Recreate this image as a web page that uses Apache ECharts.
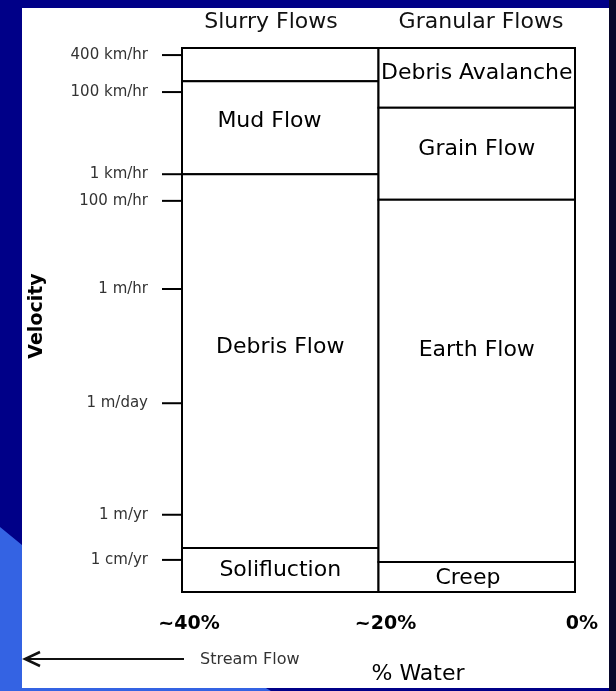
<!DOCTYPE html>
<html>
<head>
<meta charset="utf-8">
<script src="https://cdn.jsdelivr.net/npm/echarts@6/dist/echarts.min.js"></script>
<style>
html, body { margin: 0; padding: 0; background: #000088; }
#main { width: 616px; height: 691px; }
</style>
</head>
<body>
<div id="main"></div>
<script>
// velocity marks on a schematic scale, 0 = bottom of the diagram, 100 = top
const velocityLabels = ['400 km/hr', '100 km/hr', '1 km/hr', '100 m/hr', '1 m/hr', '1 m/day', '1 m/yr', '1 cm/yr'];
const velocityLevels = [98.7, 91.9, 76.8, 71.9, 55.7, 34.7, 14.2, 5.9];

// % water axis
const waterMin = 0;
const waterMax = 40;
const waterStep = 20;

// flow regions
const regionNames = ['', 'Mud Flow', 'Debris Flow', 'Solifluction', 'Debris Avalanche', 'Grain Flow', 'Earth Flow', 'Creep'];
const regionWaterHigh = [40, 40, 40, 40, 20, 20, 20, 20];
const regionWaterLow = [20, 20, 20, 20, 0, 0, 0, 0];
const regionBottom = [93.9, 76.8, 8.1, 0, 89.0, 72.1, 5.5, 0];
const regionTop = [100, 93.9, 76.8, 8.1, 100, 89.0, 72.1, 5.5];
const labelWater = [30, 31.1, 30, 30, 10, 10, 10, 10.9];
const labelLevel = [96.9, 86.6, 44.9, 4.0, 95.4, 81.3, 44.5, 2.6];

const FONT = '"DejaVu Sans", "Liberation Sans", sans-serif';

const regionData = regionNames.map((n, i) => [
    regionWaterHigh[i], regionWaterLow[i], regionBottom[i], regionTop[i], labelWater[i], labelLevel[i]
]);

const chart = echarts.init(document.getElementById('main'));

const option = {
    backgroundColor: 'transparent',
    animation: false,
    grid: { left: 182, right: 41, top: 48, bottom: 99 },
    xAxis: {
        type: 'value',
        min: waterMin,
        max: waterMax,
        interval: waterStep,
        inverse: true,
        axisLine: { show: false },
        axisTick: { show: false },
        splitLine: { show: false },
        axisLabel: {
            margin: 23,
            fontSize: 19,
            fontWeight: 'bold',
            fontFamily: FONT,
            color: '#000',
            padding: [0, 0, 0, 14],
            formatter: v => v === 0 ? '0%' : '~' + v + '%'
        }
    },
    yAxis: {
        type: 'value',
        min: 0,
        max: 100,
        axisLine: { show: false },
        splitLine: { show: false },
        axisTick: { show: false },
        axisLabel: {
            customValues: velocityLevels,
            margin: 34,
            fontSize: 15,
            fontFamily: FONT,
            color: '#333',
            formatter: v => velocityLabels[velocityLevels.indexOf(v)]
        }
    },
    graphic: [
        // background pieces
        { type: 'polygon', z: -10, shape: { points: [[0, 527], [22, 545], [271, 691], [0, 691]] }, style: { fill: '#3463e3' } },
        { type: 'rect', z: -10, shape: { x: 609, y: 0, width: 7, height: 691 }, style: { fill: '#07072c' } },
        { type: 'rect', z: -9, shape: { x: 22, y: 8, width: 587, height: 680 }, style: { fill: '#fff' } },
        // column titles
        { type: 'text', z: 10, x: 271, y: 22, style: { text: 'Slurry Flows', font: '22px ' + FONT, fill: '#111', align: 'center', verticalAlign: 'middle' } },
        { type: 'text', z: 10, x: 481, y: 22, style: { text: 'Granular Flows', font: '22px ' + FONT, fill: '#111', align: 'center', verticalAlign: 'middle' } },
        // axis names
        { type: 'text', z: 10, x: 37, y: 316, rotation: Math.PI / 2, style: { text: 'Velocity', font: 'bold 19px ' + FONT, fill: '#000', align: 'center', verticalAlign: 'middle' } },
        { type: 'text', z: 10, x: 418, y: 674, style: { text: '% Water', font: '22px ' + FONT, fill: '#000', align: 'center', verticalAlign: 'middle' } },
        // stream flow arrow
        { type: 'line', z: 10, shape: { x1: 25, y1: 659, x2: 184, y2: 659 }, style: { stroke: '#111', lineWidth: 2 } },
        { type: 'polyline', z: 10, shape: { points: [[40, 652], [25, 659], [40, 666]] }, style: { stroke: '#111', lineWidth: 2.5, fill: null } },
        { type: 'text', z: 10, x: 200, y: 660, style: { text: 'Stream Flow', font: '16px ' + FONT, fill: '#333', align: 'left', verticalAlign: 'middle' } }
    ],
    series: [
        {
            // flow regions
            type: 'custom',
            data: regionData,
            encode: { x: [0, 1, 4], y: [2, 3, 5] },
            renderItem: function (params, api) {
                const p0 = api.coord([api.value(0), api.value(3)]);
                const p1 = api.coord([api.value(1), api.value(2)]);
                const t = api.coord([api.value(4), api.value(5)]);
                return {
                    type: 'group',
                    children: [
                        {
                            type: 'rect',
                            shape: { x: p0[0], y: p0[1], width: p1[0] - p0[0], height: p1[1] - p0[1] },
                            style: { fill: '#fff', stroke: '#000', lineWidth: 2 }
                        },
                        {
                            type: 'text',
                            x: t[0],
                            y: t[1],
                            style: {
                                text: regionNames[params.dataIndex],
                                font: '22px ' + FONT,
                                fill: '#000',
                                align: 'center',
                                verticalAlign: 'middle'
                            }
                        }
                    ]
                };
            }
        },
        {
            // velocity ticks on the left edge
            type: 'custom',
            data: velocityLevels.map(v => [waterMax, v]),
            encode: { x: 0, y: 1 },
            z: 3,
            renderItem: function (params, api) {
                const p = api.coord([api.value(0), api.value(1)]);
                return {
                    type: 'line',
                    shape: { x1: p[0] - 20, y1: p[1], x2: p[0], y2: p[1] },
                    style: { stroke: '#000', lineWidth: 2 }
                };
            }
        }
    ]
};

chart.setOption(option);
</script>
</body>
</html>
